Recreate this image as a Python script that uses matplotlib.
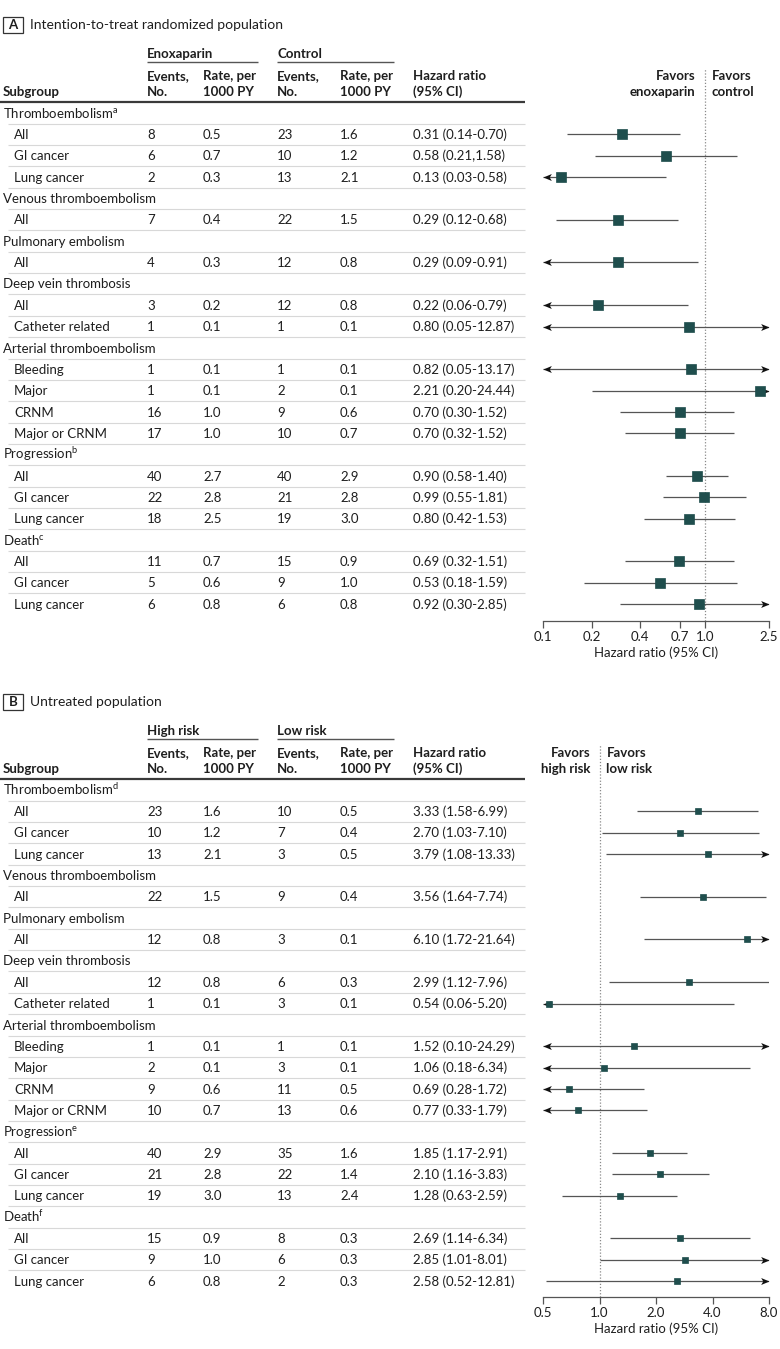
import matplotlib
matplotlib.use("Agg")
import matplotlib.pyplot as plt
from matplotlib.path import Path
from matplotlib.patches import Rectangle
from matplotlib.ticker import NullLocator, FixedLocator, FixedFormatter

plt.rcParams['font.family'] = ['Lato', 'DejaVu Sans']
plt.rcParams['mathtext.fontset'] = 'custom'
plt.rcParams['mathtext.rm'] = 'Lato'
plt.rcParams['mathtext.it'] = 'Lato:italic'
plt.rcParams['mathtext.bf'] = 'Lato:bold'

# ---------------- data ----------------
group_names = ["Thromboembolism", "Venous thromboembolism", "Pulmonary embolism",
               "Deep vein thrombosis", "Arterial thromboembolism", "Progression", "Death"]
a_notes = ["a", "", "", "", "", "b", "c"]
b_notes = ["d", "", "", "", "", "e", "f"]
subgroups = ["All", "GI cancer", "Lung cancer", "All", "All", "All", "Catheter related",
             "Bleeding", "Major", "CRNM", "Major or CRNM", "All", "GI cancer", "Lung cancer",
             "All", "GI cancer", "Lung cancer"]
subgroup_group = [0, 0, 0, 1, 2, 3, 3, 4, 4, 4, 4, 5, 5, 5, 6, 6, 6]

# Panel A: intention-to-treat randomized population
a_events_enox = [8, 6, 2, 7, 4, 3, 1, 1, 1, 16, 17, 40, 22, 18, 11, 5, 6]
a_rate_enox = [0.5, 0.7, 0.3, 0.4, 0.3, 0.2, 0.1, 0.1, 0.1, 1.0, 1.0, 2.7, 2.8, 2.5, 0.7, 0.6, 0.8]
a_events_ctrl = [23, 10, 13, 22, 12, 12, 1, 1, 2, 9, 10, 40, 21, 19, 15, 9, 6]
a_rate_ctrl = [1.6, 1.2, 2.1, 1.5, 0.8, 0.8, 0.1, 0.1, 0.1, 0.6, 0.7, 2.9, 2.8, 3.0, 0.9, 1.0, 0.8]
a_hr = [0.31, 0.58, 0.13, 0.29, 0.29, 0.22, 0.80, 0.82, 2.21, 0.70, 0.70, 0.90, 0.99, 0.80, 0.69, 0.53, 0.92]
a_lo = [0.14, 0.21, 0.03, 0.12, 0.09, 0.06, 0.05, 0.05, 0.20, 0.30, 0.32, 0.58, 0.55, 0.42, 0.32, 0.18, 0.30]
a_hi = [0.70, 1.58, 0.58, 0.68, 0.91, 0.79, 12.87, 13.17, 24.44, 1.52, 1.52, 1.40, 1.81, 1.53, 1.51, 1.59, 2.85]
a_ci_sep = ["-", ",", "-", "-", "-", "-", "-", "-", "-", "-", "-", "-", "-", "-", "-", "-", "-"]
a_ticks = [0.1, 0.2, 0.4, 0.7, 1.0, 2.5]

# Panel B: untreated population
b_events_high = [23, 10, 13, 22, 12, 12, 1, 1, 2, 9, 10, 40, 21, 19, 15, 9, 6]
b_rate_high = [1.6, 1.2, 2.1, 1.5, 0.8, 0.8, 0.1, 0.1, 0.1, 0.6, 0.7, 2.9, 2.8, 3.0, 0.9, 1.0, 0.8]
b_events_low = [10, 7, 3, 9, 3, 6, 3, 1, 3, 11, 13, 35, 22, 13, 8, 6, 2]
b_rate_low = [0.5, 0.4, 0.5, 0.4, 0.1, 0.3, 0.1, 0.1, 0.1, 0.5, 0.6, 1.6, 1.4, 2.4, 0.3, 0.3, 0.3]
b_hr = [3.33, 2.70, 3.79, 3.56, 6.10, 2.99, 0.54, 1.52, 1.06, 0.69, 0.77, 1.85, 2.10, 1.28, 2.69, 2.85, 2.58]
b_lo = [1.58, 1.03, 1.08, 1.64, 1.72, 1.12, 0.06, 0.10, 0.18, 0.28, 0.33, 1.17, 1.16, 0.63, 1.14, 1.01, 0.52]
b_hi = [6.99, 7.10, 13.33, 7.74, 21.64, 7.96, 5.20, 24.29, 6.34, 1.72, 1.79, 2.91, 3.83, 2.59, 6.34, 8.01, 12.81]
b_ci_sep = ["-"] * 17
b_ticks = [0.5, 1.0, 2.0, 4.0, 8.0]

# ---------------- styling ----------------
FIG_W, FIG_H = 780, 1349
DY = 21.35
TXT = '#1e1e1e'
SQ = '#1f4e4d'
LINE = '#555555'
FS = 9.5

LEFT_ARROW = Path([(0, 0), (1, 0.42), (0.75, 0), (1, -0.42), (0, 0)],
                  [Path.MOVETO, Path.LINETO, Path.LINETO, Path.LINETO, Path.CLOSEPOLY])
RIGHT_ARROW = Path([(0, 0), (-1, 0.42), (-0.75, 0), (-1, -0.42), (0, 0)],
                   [Path.MOVETO, Path.LINETO, Path.LINETO, Path.LINETO, Path.CLOSEPOLY])

fig = plt.figure(figsize=(FIG_W / 100, FIG_H / 100), dpi=100)
fig.patch.set_facecolor('white')


def draw_panel(letter, title, grp1, grp2, fav_left, fav_right, notes,
               ev1, r1, ev2, r2, hr, lo, hi, seps, ticks, log_base,
               y0, top_px, bot_px, axis_px, ms):
    def row(px):
        return (px - y0) / DY

    tab = fig.add_axes([0, 1 - bot_px / FIG_H, 1, (bot_px - top_px) / FIG_H])
    tab.set_xlim(0, FIG_W)
    tab.set_ylim(row(bot_px), row(top_px))
    tab.axis('off')

    BL = 0.22  # baseline offset (rows) below row centre

    y = 0
    data_y = []
    last_g = None
    for g in subgroup_group:
        if g != last_g:
            note = notes[g]
            label = group_names[g] + (r"$^{\rm %s}$" % note if note else "")
            tab.text(3, y + BL, label, fontsize=FS, color=TXT, va='baseline', ha='left')
            y += 1
            last_g = g
        data_y.append(y)
        y += 1
    n_rows = y

    for i, yy in enumerate(data_y):
        tab.text(14, yy + BL, subgroups[i], fontsize=FS, color=TXT, va='baseline')
        tab.text(147, yy + BL, f"{ev1[i]}", fontsize=FS, color=TXT, va='baseline')
        tab.text(203, yy + BL, f"{r1[i]:.1f}", fontsize=FS, color=TXT, va='baseline')
        tab.text(277, yy + BL, f"{ev2[i]}", fontsize=FS, color=TXT, va='baseline')
        tab.text(340, yy + BL, f"{r2[i]:.1f}", fontsize=FS, color=TXT, va='baseline')
        tab.text(413, yy + BL, f"{hr[i]:.2f} ({lo[i]:.2f}{seps[i]}{hi[i]:.2f})",
                 fontsize=FS, color=TXT, va='baseline')

    for i in range(n_rows - 1):
        tab.plot([8, 525], [i + 0.5, i + 0.5], color='#d8d8d8', lw=0.8, solid_capstyle='butt')

    # header
    tab.plot([0, 525], [-0.5, -0.5], color='#3a3a3a', lw=1.6, solid_capstyle='butt')
    hdr1, hdr2, hgrp, hline = row(y0 - 38) + BL, row(y0 - 22) + BL, row(y0 - 60) + BL, row(y0 - 51)
    kw = dict(fontsize=FS, color=TXT, va='baseline', fontweight='bold')
    tab.text(147, hgrp, grp1, **kw)
    tab.text(277, hgrp, grp2, **kw)
    tab.plot([147, 258], [hline, hline], color=LINE, lw=1.0, solid_capstyle='butt')
    tab.plot([277, 394], [hline, hline], color=LINE, lw=1.0, solid_capstyle='butt')
    tab.text(3, hdr2, "Subgroup", **kw)
    for x in (147, 277):
        tab.text(x, hdr1, "Events,", **kw)
        tab.text(x, hdr2, "No.", **kw)
    for x in (203, 340):
        tab.text(x, hdr1, "Rate, per", **kw)
        tab.text(x, hdr2, "1000 PY", **kw)
    tab.text(413, hdr1, "Hazard ratio", **kw)
    tab.text(413, hdr2, "(95% CI)", **kw)

    # title
    tc = row(y0 - 88)
    half = 8 / DY
    tab.add_patch(Rectangle((3, tc - half), 20, 2 * half, fill=False, ec='#333333', lw=0.9))
    tab.text(13, tc, letter, fontsize=9.5, fontweight='bold', ha='center', va='center', color=TXT)
    tab.text(30, tc, title, fontsize=10, ha='left', va='center', color=TXT)

    # forest plot
    dot_top = y0 - 45
    ax = fig.add_axes([543 / FIG_W, 1 - axis_px / FIG_H, 226 / FIG_W, (axis_px - dot_top) / FIG_H])
    ax.set_facecolor('none')
    ax.set_ylim(row(axis_px), row(dot_top))
    ax.set_xscale('log', base=log_base)
    xmin, xmax = ticks[0], ticks[-1]
    ax.set_xlim(xmin, xmax)
    ax.axvline(1.0, color='#8a8a8a', ls=(0, (1, 1.5)), lw=0.9, zorder=1)

    for i, yy in enumerate(data_y):
        x0 = max(lo[i], xmin)
        x1 = min(hi[i], xmax)
        ax.plot([x0, x1], [yy, yy], color=LINE, lw=0.9, zorder=2, solid_capstyle='butt')
        if lo[i] < xmin:
            ax.plot([xmin], [yy], marker=LEFT_ARROW, ms=12, color='#111111', mew=0,
                    clip_on=False, zorder=3)
        if hi[i] > xmax:
            ax.plot([xmax], [yy], marker=RIGHT_ARROW, ms=12, color='#111111', mew=0,
                    clip_on=False, zorder=3)
        ax.plot([hr[i]], [yy], marker='s', ms=ms, color=SQ, mec=SQ, mew=0.5,
                clip_on=False, zorder=4)

    # favors labels
    fkw = dict(fontsize=FS, color=TXT, fontweight='bold', va='baseline',
               textcoords='offset points', annotation_clip=False, xycoords='data')
    ax.annotate(fav_left[0], xy=(1.0, hdr1), xytext=(-6.5, 0), ha='right', **fkw)
    ax.annotate(fav_left[1], xy=(1.0, hdr2), xytext=(-6.5, 0), ha='right', **fkw)
    ax.annotate(fav_right[0], xy=(1.0, hdr1), xytext=(5, 0), ha='left', **fkw)
    ax.annotate(fav_right[1], xy=(1.0, hdr2), xytext=(5, 0), ha='left', **fkw)

    for s in ('top', 'left', 'right'):
        ax.spines[s].set_visible(False)
    ax.spines['bottom'].set_color(LINE)
    ax.spines['bottom'].set_linewidth(0.9)
    ax.set_yticks([])
    ax.xaxis.set_major_locator(FixedLocator(ticks))
    ax.xaxis.set_major_formatter(FixedFormatter([f"{t:.1f}" for t in ticks]))
    ax.xaxis.set_minor_locator(NullLocator())
    ax.tick_params(axis='x', length=5, width=0.9, color=LINE, labelsize=FS,
                   labelcolor=TXT, pad=2)
    ax.set_xlabel("Hazard ratio (95% CI)", fontsize=FS, color=TXT, labelpad=3)


draw_panel("A", "Intention-to-treat randomized population", "Enoxaparin", "Control",
           ("Favors", "enoxaparin"), ("Favors", "control"), a_notes,
           a_events_enox, a_rate_enox, a_events_ctrl, a_rate_ctrl,
           a_hr, a_lo, a_hi, a_ci_sep, a_ticks, 10,
           y0=113, top_px=0, bot_px=680, axis_px=621, ms=6.5)

draw_panel("B", "Untreated population", "High risk", "Low risk",
           ("Favors", "high risk"), ("Favors", "low risk"), b_notes,
           b_events_high, b_rate_high, b_events_low, b_rate_low,
           b_hr, b_lo, b_hi, b_ci_sep, b_ticks, 2,
           y0=790, top_px=680, bot_px=1349, axis_px=1297, ms=4.8)

fig.savefig("out.png", dpi=100, facecolor='white')
